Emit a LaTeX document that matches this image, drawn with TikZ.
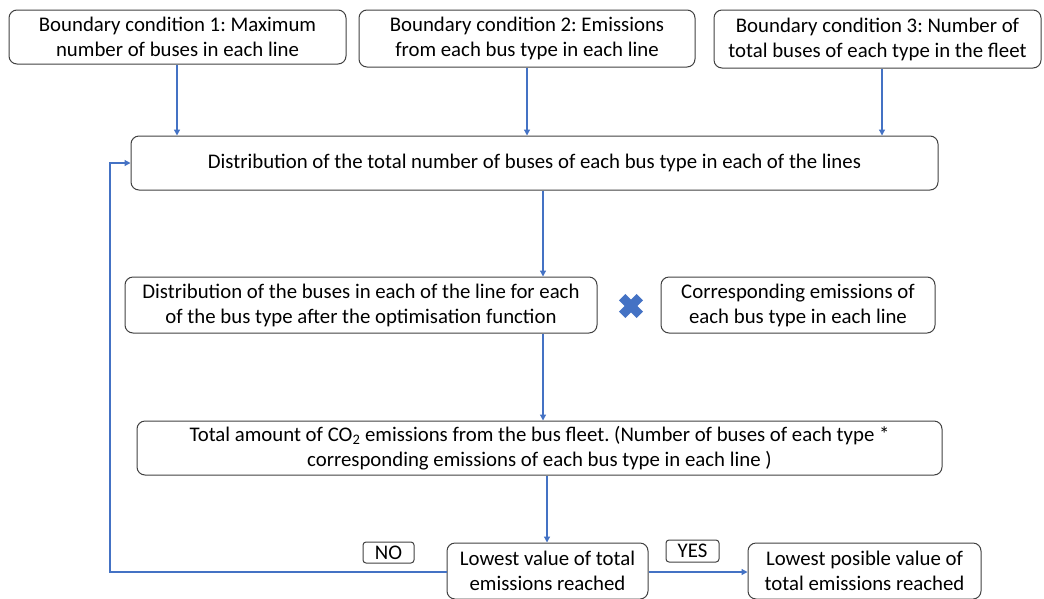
\documentclass[tikz,border=0pt]{standalone}
\usepackage{fontspec}
\setmainfont{Carlito}
\frenchspacing
\usetikzlibrary{arrows.meta,calc}
\definecolor{arrowblue}{RGB}{68,114,196}
\definecolor{boxgray}{RGB}{64,64,64}
\tikzset{
  box/.style={draw=boxgray, line width=1pt, rounded corners=8pt, align=center, inner sep=0pt,
    font=\fontsize{20.8pt}{25pt}\selectfont},
  lbl/.style={draw=boxgray, line width=1pt, rounded corners=3pt, inner sep=0pt,
    font=\fontsize{20.8pt}{22pt}\selectfont},
  arr/.style={draw=arrowblue, line width=1.3pt, -{Triangle[length=6pt,width=6pt]}},
}
\begin{document}
\begin{tikzpicture}[x=1pt,y=-1pt]
\useasboundingbox (0,0) rectangle (1044,598);
\node[box, minimum width=337pt, minimum height=54pt] (b1) at (177.5,37) {Boundary condition 1: Maximum\\number of buses in each line};
\node[box, minimum width=336pt, minimum height=57pt] (b2) at (527,38.5) {Boundary condition 2: Emissions\\from each bus type in each line};
\node[box, minimum width=327pt, minimum height=58pt] (b3) at (877.5,39) {Boundary condition 3: Number of\\total buses of each type in the fleet};
\node[box, minimum width=807pt, minimum height=54pt] (dist) at (534.5,163) {Distribution of the total number of buses of each bus type in each of the lines};
\node[box, minimum width=472pt, minimum height=56pt] (left) at (361,305) {Distribution of the buses in each of the line for each\\of the bus type after the optimisation function};
\node[box, minimum width=274pt, minimum height=56pt] (right) at (798,305) {Corresponding emissions of\\each bus type in each line};
\node[box, minimum width=805pt, minimum height=54pt] (total) at (539.5,448) {Total amount of CO\textsubscript{2} emissions from the bus fleet. (Number of buses of each type *\\corresponding emissions of each bus type in each line )};
\node[box, minimum width=201pt, minimum height=56pt] (low) at (547.5,571) {Lowest value of total\\emissions reached};
\node[box, minimum width=233pt, minimum height=56pt] (fin) at (864.5,571) {Lowest posible value of\\total emissions reached};
\node[lbl, minimum width=51pt, minimum height=21pt] (no) at (388.5,552.5) {NO};
\node[lbl, minimum width=53pt, minimum height=22pt] (yes) at (692.5,551) {YES};
% cross
\node[inner sep=0pt, minimum size=26pt] (cross) at (631,306) {};
\fill[arrowblue, rotate around={45:(cross.center)}] ($(cross.center)+(-12.5,-4.5)$) rectangle ($(cross.center)+(12.5,4.5)$);
\fill[arrowblue, rotate around={45:(cross.center)}] ($(cross.center)+(-4.5,-12.5)$) rectangle ($(cross.center)+(4.5,12.5)$);
% arrow coordinates
\coordinate (c1) at (177,0);
\coordinate (c2) at (527,0);
\coordinate (c3) at (882,0);
\coordinate (c4) at (543,0);
\coordinate (c5) at (547,0);
\coordinate (loopcorner) at (110,572);
% arrows
\draw[arr] (c1 |- b1.south) -- (c1 |- dist.north);
\draw[arr] (c2 |- b2.south) -- (c2 |- dist.north);
\draw[arr] (c3 |- b3.south) -- (c3 |- dist.north);
\draw[arr] (c4 |- dist.south) -- (c4 |- left.north);
\draw[arr] (c4 |- left.south) -- (c4 |- total.north);
\draw[arr] (c5 |- total.south) -- (c5 |- low.north);
\draw[arr] (low.west |- loopcorner) -- (loopcorner) -- (loopcorner |- dist.west) -- (dist.west);
\draw[arr] (low.east |- loopcorner) -- (fin.west |- loopcorner);
\end{tikzpicture}
\end{document}
